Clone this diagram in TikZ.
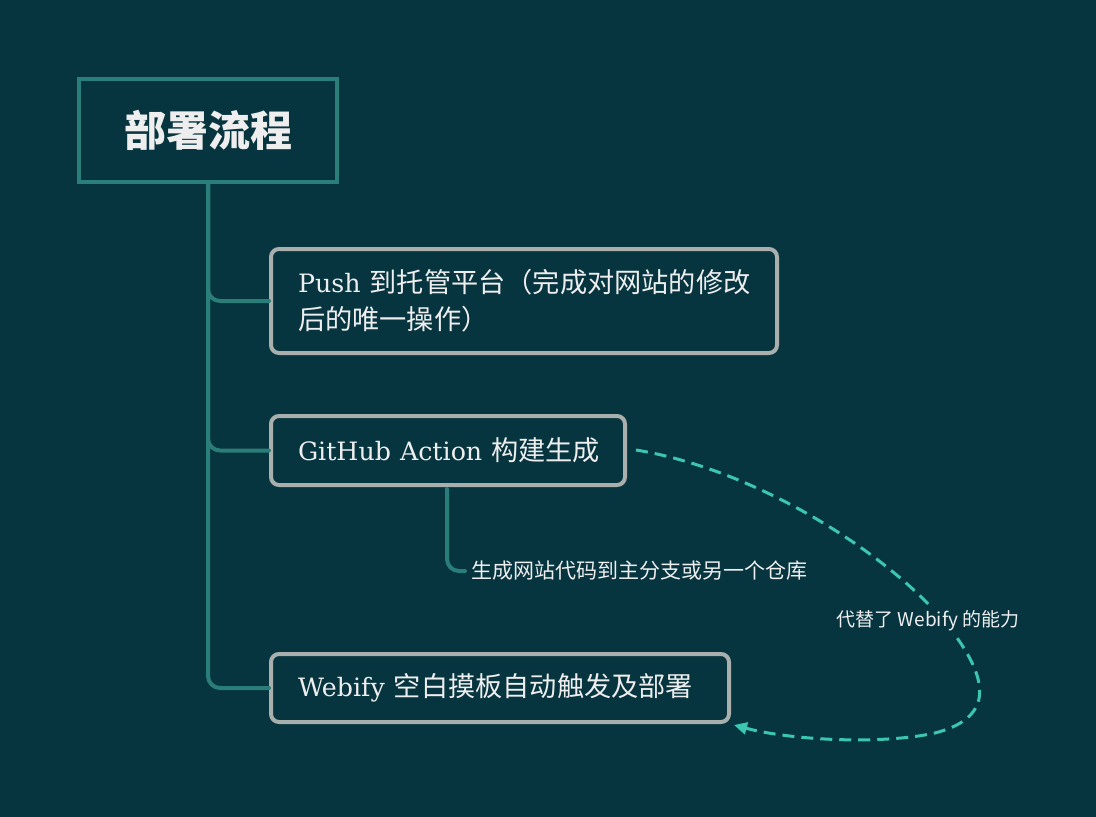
\documentclass[tikz,border=0pt]{standalone}
\usepackage{fontspec}
\setmainfont{Noto Sans CJK SC}
\newfontfamily\slab{DejaVu Serif}[Scale=0.93]
\usetikzlibrary{arrows.meta}
\definecolor{bgc}{HTML}{06353F}
\definecolor{rootc}{HTML}{2A7F7B}
\definecolor{linkc}{HTML}{2A7D78}
\definecolor{boxc}{HTML}{A8AFAD}
\definecolor{txt}{HTML}{EEEEEE}
\definecolor{dashc}{HTML}{3CC6B2}
\begin{document}
\begin{tikzpicture}[x=1pt,y=-1pt,
  rootbox/.style={draw=rootc, line width=4pt, minimum width=258pt, minimum height=103pt, inner sep=0pt, text=txt, font=\fontsize{42}{48}\selectfont\bfseries},
  item/.style={draw=boxc, line width=4pt, rounded corners=8pt, text=txt, font=\fontsize{27.2}{37}\selectfont, inner xsep=27pt, inner ysep=0pt, align=left},
  link/.style={draw=linkc, line width=4pt, rounded corners=12pt, line cap=round},
  subtxt/.style={text=txt, font=\fontsize{21}{25}\selectfont, inner sep=0pt},
  lab/.style={text=txt, fill=bgc, font=\fontsize{19}{23}\selectfont, inner xsep=2pt, inner ysep=3pt},
  flow/.style={draw=dashc, line width=3pt, dash pattern=on 12pt off 7pt, -{Triangle[length=13pt,width=12pt]}},
]
\fill[bgc] (0,0) rectangle (1096,817);
\useasboundingbox (0,0) rectangle (1096,817);

\node[rootbox] (root) at (208,130.5) {部署流程};

\node[item, text width=452pt, minimum height=104pt] (b1) at (524,301)
  {\mbox{{\slab Push} 到托管平台（完成对网站的修改}\\\mbox{后的唯一操作）}};
\node[item, text width=300pt, minimum height=69pt] (b2) at (448,450.5)
  {\mbox{{\slab GitHub Action} 构建生成}};
\node[item, text width=404pt, minimum height=68pt] (b3) at (500,688)
  {\mbox{{\slab Webify} 空白摸板自动触发及部署}};

\draw[link] (root.south) |- (b1.west);
\draw[link] (root.south) |- (b2.west);
\draw[link] (root.south) |- (b3.west);

\node[subtxt, anchor=west] (sub) at (471,571) {生成网站代码到主分支或另一个仓库};
\coordinate (tap) at (447,489);
\coordinate (subend) at (465,571);
\draw[link] (tap) |- (subend);

\coordinate (cs) at (636,450);
\coordinate (ce) at (734,725);
\draw[flow] (cs) .. controls (760,470) and (900,560) .. (955,635)
  .. controls (995,690) and (985,720) .. (935,733)
  .. controls (880,745) and (790,740) .. (ce);
\node[lab] (lbl) at (928,621) {代替了 Webify 的能力};
\end{tikzpicture}
\end{document}
